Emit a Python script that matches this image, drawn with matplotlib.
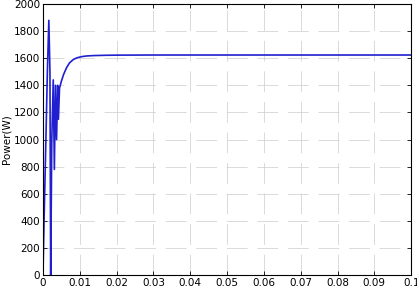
import matplotlib.pyplot as plt

# time (s) and power (W)
t = [0.0, 0.0003, 0.0008, 0.0012, 0.0016, 0.0019, 0.0021, 0.0024, 0.0028,
     0.0031, 0.0034, 0.0037, 0.0040, 0.0042, 0.0045, 0.0050, 0.0056, 0.0064,
     0.0072, 0.0082, 0.0092, 0.0105, 0.0119, 0.0140, 0.0170, 0.0200, 0.0300,
     0.0400, 0.0500, 0.0600, 0.0700, 0.0800, 0.0900, 0.1000]
power = [0, 400, 1000, 1500, 1880, 1500, 0, 1000, 1440,
         780, 1400, 1000, 1400, 1150, 1380, 1430, 1480, 1530,
         1565, 1590, 1603, 1612, 1617, 1620, 1622, 1623, 1624,
         1624, 1624, 1624, 1624, 1624, 1624, 1624]

xticks = [0, 0.01, 0.02, 0.03, 0.04, 0.05, 0.06, 0.07, 0.08, 0.09, 0.1]
xlabels = ['0', '0.01', '0.02', '0.03', '0.04', '0.05', '0.06', '0.07', '0.08', '0.09', '0.1']
yticks = [0, 200, 400, 600, 800, 1000, 1200, 1400, 1600, 1800, 2000]

fig = plt.figure(figsize=(4.17, 2.89), dpi=100)
ax = fig.add_axes([0.103, 0.048, 0.883, 0.938])

ax.plot(t, power, color='#2020d0', lw=1.2)

ax.set_xlim(0, 0.1)
ax.set_ylim(0, 2000)
ax.set_xticks(xticks)
ax.set_xticklabels(xlabels)
ax.set_yticks(yticks)
ax.tick_params(direction='in', top=True, right=True, labelsize=7.5, length=3, width=0.6, pad=2)
ax.grid(True, color='#cccccc', lw=0.5, linestyle=(0, (30, 14)))
ax.set_ylabel('Power(W)', fontsize=7.5, labelpad=2)

for s in ax.spines.values():
    s.set_linewidth(0.8)

plt.savefig('out.png', dpi=100)
